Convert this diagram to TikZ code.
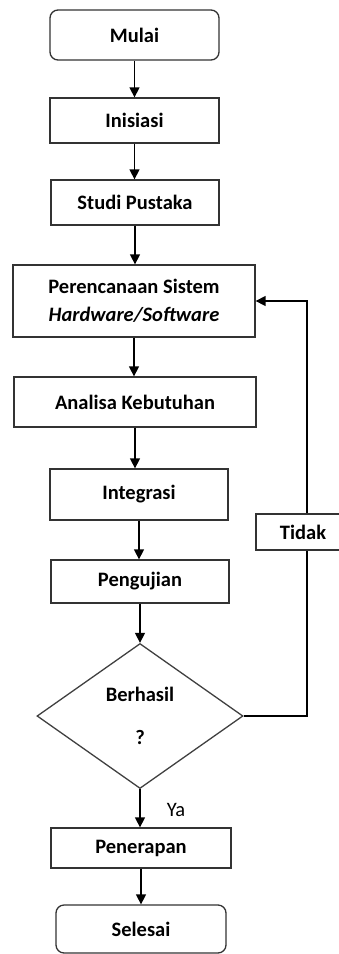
\documentclass[tikz,border=0pt]{standalone}
\usepackage{fontspec}
\setmainfont{Carlito}
\usetikzlibrary{positioning,calc,arrows.meta,shapes.geometric}
\tikzset{font=\fontsize{20.5}{25}\selectfont\bfseries}
\tikzset{
	proc/.style={draw=black!80, line width=1.3pt, fill=white, rectangle, inner sep=0pt, align=center},
	term/.style={proc, rounded corners=8pt},
	dec/.style={draw=black!75, line width=1.3pt, diamond, inner sep=0pt, align=center},
	flow/.style={line width=1.4pt, -{Triangle[length=10pt,width=10pt]}},
}

\begin{document}
\begin{tikzpicture}[x=1pt, y=-1pt]
	\clip (0,0) rectangle (339,954);
	\useasboundingbox (0,0) rectangle (339,954);
	\node[term, minimum width=169pt, minimum height=50pt] (mulai) at (134.5, 35) {Mulai};
	\node[proc, minimum width=169pt, minimum height=45pt] (inisiasi) at (134.5, 120.5) {Inisiasi};
	\node[proc, minimum width=168pt, minimum height=45pt] (studi) at (135, 202.5) {Studi Pustaka};
	\node[proc, minimum width=242pt, minimum height=72pt] (rencana) at (134, 301) {Perencanaan Sistem\\[3pt]\textit{Hardware/Software}};
	\node[proc, minimum width=242pt, minimum height=50pt] (analisa) at (135, 402) {Analisa Kebutuhan};
	\node[proc, minimum width=178pt, minimum height=51pt] (integrasi) at (139, 494.5) {Integrasi};
	\node[proc, minimum width=178pt, minimum height=43pt] (uji) at (140, 581.5) {Pengujian};
	\node[dec, minimum width=206pt, minimum height=145pt] (hasil) at (140, 716) {Berhasil\\[18pt]?};
	\node[proc, minimum width=180pt, minimum height=40pt] (terap) at (141, 848) {Penerapan};
	\node[term, minimum width=170pt, minimum height=48pt] (selesai) at (141, 929) {Selesai};

	\node[font=\fontsize{20.5}{25}\selectfont] (ya) at (176, 810) {Ya};
	\coordinate (belok1) at (307, 716);
	\coordinate (belok2) at (307, 301);

	\draw [flow] (mulai.south) to (mulai.south |- inisiasi.north);
	\draw [flow] (inisiasi.south) to (inisiasi.south |- studi.north);
	\draw [flow] (studi.south) to (studi.south |- rencana.north);
	\draw [flow] (rencana.south) to (rencana.south |- analisa.north);
	\draw [flow] (analisa.south) to (analisa.south |- integrasi.north);
	\draw [flow] (integrasi.south) to (integrasi.south |- uji.north);
	\draw [flow] (uji.south) to (uji.south |- hasil.north);
	\draw [flow] (hasil.south) to (hasil.south |- terap.north);
	\draw [flow] (terap.south) to (terap.south |- selesai.north);

	% jalur kembali jika tidak berhasil
	\draw [flow] (hasil.east) -- (belok1) -- (belok2) -- (rencana.east);
	\node[proc, minimum width=94pt, minimum height=36pt] (tidak) at (303, 532) {Tidak};
\end{tikzpicture}
\end{document}
